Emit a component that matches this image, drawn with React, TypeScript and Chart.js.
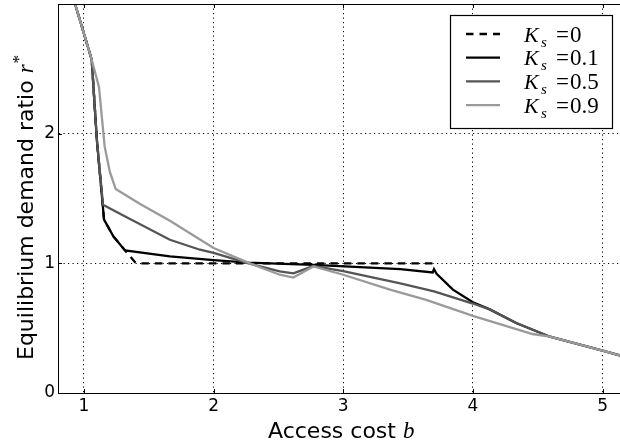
import React, { useEffect, useRef } from "react";
import { Chart, registerables } from "chart.js";

Chart.register(...registerables);

// ---- data ----
const xTickValues = [1, 2, 3, 4, 5];
const yTickValues = [0, 1, 2];
const kValues = ["0", "0.1", "0.5", "0.9"];

const k0X = [0.92, 1.06, 1.10, 1.155, 1.227, 1.317, 1.40, 1.45, 3.69];
const k0Y = [3.04, 2.57, 1.95, 1.337, 1.208, 1.10, 1.003, 1.0, 1.0];

const k01X = [0.92, 1.06, 1.10, 1.155, 1.227, 1.317, 1.663, 2.0, 2.27, 2.77, 3.05, 3.44, 3.69, 3.70, 3.72, 3.846, 4.0, 4.13, 4.334, 4.594, 5.0, 5.16];
const k01Y = [3.04, 2.57, 1.95, 1.337, 1.208, 1.10, 1.053, 1.025, 1.005, 0.988, 0.975, 0.956, 0.93, 0.955, 0.92, 0.797, 0.70, 0.645, 0.54, 0.434, 0.326, 0.283];

const k05X = [0.92, 1.06, 1.10, 1.147, 1.30, 1.663, 1.895, 2.0, 2.27, 2.51, 2.615, 2.77, 3.0, 3.44, 3.70, 4.0, 4.13, 4.334, 4.594, 5.0, 5.16];
const k05Y = [3.04, 2.57, 1.95, 1.452, 1.37, 1.182, 1.105, 1.08, 1.0, 0.938, 0.923, 0.979, 0.94, 0.845, 0.784, 0.69, 0.645, 0.54, 0.434, 0.326, 0.283];

const k09X = [0.92, 1.06, 1.116, 1.16, 1.20, 1.245, 1.43, 1.663, 2.0, 2.28, 2.51, 2.615, 2.77, 3.0, 3.36, 3.64, 4.0, 4.46, 4.594, 5.0, 5.16];
const k09Y = [3.04, 2.57, 2.36, 1.90, 1.705, 1.573, 1.46, 1.328, 1.118, 1.0, 0.912, 0.89, 0.976, 0.912, 0.797, 0.718, 0.595, 0.455, 0.434, 0.326, 0.283];

const pts = (xs: number[], ys: number[]) => xs.map((x, i) => ({ x, y: ys[i] }));

const overlay = {
  id: "overlay",
  afterDraw(chart: any) {
    const { ctx, chartArea: a, scales } = chart;
    ctx.save();
    ctx.strokeStyle = "#000";
    ctx.lineWidth = 1;
    ctx.setLineDash([]);
    // top frame
    ctx.beginPath();
    ctx.moveTo(a.left, a.top + 0.5);
    ctx.lineTo(a.right, a.top + 0.5);
    ctx.stroke();
    // inward ticks
    ctx.beginPath();
    xTickValues.forEach((v) => {
      const px = Math.round(scales.x.getPixelForValue(v)) + 0.5;
      ctx.moveTo(px, a.bottom);
      ctx.lineTo(px, a.bottom - 4);
      ctx.moveTo(px, a.top);
      ctx.lineTo(px, a.top + 4);
    });
    yTickValues.forEach((v) => {
      const py = Math.round(scales.y.getPixelForValue(v)) + 0.5;
      ctx.moveTo(a.left, py);
      ctx.lineTo(a.left + 4, py);
    });
    ctx.stroke();

    // legend
    const lx0 = 450, ly0 = 15, lx1 = 612, ly1 = 128;
    ctx.fillStyle = "#fff";
    ctx.fillRect(lx0, ly0, lx1 - lx0, ly1 - ly0);
    ctx.strokeStyle = "#000";
    ctx.lineWidth = 1.2;
    ctx.strokeRect(lx0 + 0.5, ly0 + 0.5, lx1 - lx0, ly1 - ly0);
    chart.data.datasets.forEach((ds: any, i: number) => {
      const ry = 34 + i * 23.7;
      ctx.save();
      ctx.strokeStyle = ds.borderColor;
      ctx.lineWidth = ds.borderWidth;
      ctx.setLineDash(ds.borderDash || []);
      ctx.beginPath();
      ctx.moveTo(466, ry);
      ctx.lineTo(500, ry);
      ctx.stroke();
      ctx.restore();
      const by = ry + 7.5;
      ctx.fillStyle = "#000";
      ctx.textAlign = "left";
      ctx.textBaseline = "alphabetic";
      ctx.font = 'italic 22px "Liberation Serif"';
      ctx.fillText("K", 524, by);
      ctx.font = 'italic 15px "Liberation Serif"';
      ctx.fillText("s", 541, by + 5);
      ctx.font = '23px "Liberation Serif"';
      ctx.fillText("=", 556, by);
      ctx.fillText(kValues[i], 570, by);
    });

    // axis titles
    ctx.fillStyle = "#000";
    ctx.textAlign = "left";
    ctx.textBaseline = "alphabetic";
    ctx.font = '22px "DejaVu Sans"';
    const xt = "Access cost ";
    ctx.fillText(xt, 268, 438);
    const xw = ctx.measureText(xt).width;
    ctx.font = 'italic 23px "Liberation Serif"';
    ctx.fillText("b", 268 + xw, 438);

    ctx.save();
    ctx.translate(33, 360);
    ctx.rotate(-Math.PI / 2);
    ctx.font = '22px "DejaVu Sans"';
    const yt = "Equilibrium demand ratio ";
    ctx.fillText(yt, 0, 0);
    let w = ctx.measureText(yt).width;
    ctx.font = 'italic 23px "Liberation Serif"';
    ctx.fillText("r", w, 0);
    w += ctx.measureText("r").width + 1;
    ctx.font = '17px "Liberation Serif"';
    ctx.fillText("*", w, -9);
    ctx.restore();

    ctx.restore();
  },
};

export default function App() {
  const ref = useRef<HTMLCanvasElement | null>(null);
  useEffect(() => {
    if (!ref.current) return;
    const common = { pointRadius: 0, borderWidth: 2.3, tension: 0, fill: false, clip: 0 };
    const chart = new Chart(ref.current, {
      type: "line",
      data: {
        datasets: [
          { ...common, label: "K_s=" + kValues[0], data: pts(k0X, k0Y), borderColor: "#000000", borderDash: [7.5, 6], order: 4 },
          { ...common, label: "K_s=" + kValues[1], data: pts(k01X, k01Y), borderColor: "#000000", order: 3 },
          { ...common, label: "K_s=" + kValues[2], data: pts(k05X, k05Y), borderColor: "#555555", order: 2 },
          { ...common, label: "K_s=" + kValues[3], data: pts(k09X, k09Y), borderColor: "#9a9a9a", order: 1 },
        ] as any,
      },
      options: {
        responsive: false,
        animation: false,
        devicePixelRatio: 1,
        layout: { padding: { top: 4, left: 0, right: 0, bottom: 0 } },
        plugins: { legend: { display: false }, tooltip: { enabled: false } },
        scales: {
          x: {
            type: "linear",
            min: 0.8,
            max: 5.15,
            afterBuildTicks: (s: any) => { s.ticks = xTickValues.map((v) => ({ value: v })); },
            afterFit: (s: any) => { s.height = 48; s.paddingLeft = 0; s.paddingRight = 0; },
            grid: { color: "#000", lineWidth: 1, drawTicks: false },
            border: { display: true, color: "#000", width: 1, dash: [1.2, 3.3] },
            ticks: { color: "#000", font: { family: "DejaVu Sans", size: 17 }, padding: 3, maxRotation: 0, autoSkip: false },
          },
          y: {
            type: "linear",
            min: 0,
            max: 3,
            afterBuildTicks: (s: any) => { s.ticks = yTickValues.map((v) => ({ value: v })); },
            afterFit: (s: any) => { s.width = 58; s.paddingTop = 0; s.paddingBottom = 0; },
            grid: { color: "#000", lineWidth: 1, drawTicks: false },
            border: { display: true, color: "#000", width: 1, dash: [1.2, 3.3] },
            ticks: { color: "#000", font: { family: "DejaVu Sans", size: 17 }, padding: 3, autoSkip: false },
          },
        },
      } as any,
      plugins: [overlay],
    });
    return () => chart.destroy();
  }, []);
  return (
    <div style={{ position: "fixed", left: 0, top: 0, width: 620, height: 441, overflow: "hidden", background: "#fff" }}>
      <canvas ref={ref} width={622} height={441} style={{ display: "block", width: 622, height: 441 }} />
    </div>
  );
}
